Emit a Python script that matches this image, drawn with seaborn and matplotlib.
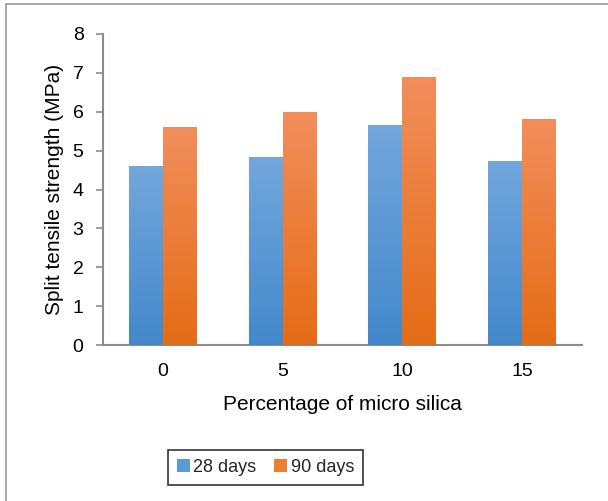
import numpy as np
import pandas as pd
import matplotlib
matplotlib.use("Agg")
import matplotlib.pyplot as plt
import seaborn as sns
from matplotlib.patches import Patch
from matplotlib.colors import LinearSegmentedColormap
from matplotlib.lines import Line2D
import matplotlib.patheffects as pe

# ── Data ──────────────────────────────────────────────────────────────────────
silica_pct = ["0", "5", "10", "15"]
days_28 = [4.60, 4.83, 5.66, 4.73]
days_90 = [5.60, 5.99, 6.89, 5.81]
series_names = ["28 days", "90 days"]

df = pd.DataFrame({
    "pct": silica_pct * 2,
    "strength": days_28 + days_90,
    "age": [series_names[0]] * 4 + [series_names[1]] * 4,
})

# gradient colours (top -> bottom)
grad = {
    "28 days": ("#73a7dd", "#4388cb"),
    "90 days": ("#f28e5c", "#e56c16"),
}
mid = {"28 days": "#5b9bd5", "90 days": "#ed7d31"}

sns.set_theme(style="white")
plt.rcParams["font.family"] = ["Liberation Sans", "DejaVu Sans"]

fig = plt.figure(figsize=(6.08, 5.01), dpi=100)
ax = fig.add_axes([103 / 608, 1 - 345 / 501, (582 - 103) / 608, (345 - 34) / 501])

sns.barplot(data=df, x="pct", y="strength", hue="age", order=silica_pct,
            hue_order=series_names, palette=mid, width=0.567, gap=0,
            legend=False, ax=ax, saturation=1, linewidth=0)

# ── Gradient fill on each bar ─────────────────────────────────────────────────
ax.set_ylim(0, 8)
ax.set_xlim(-0.5, 3.5)
grad_img = np.linspace(0, 1, 256).reshape(-1, 1)
patches = list(ax.patches)
for i, p in enumerate(patches):
    name = series_names[i // len(silica_pct)]
    top, bot = grad[name]
    cmap = LinearSegmentedColormap.from_list(name, [top, bot])
    x0, y0 = p.get_x(), p.get_y()
    w, h = p.get_width(), p.get_height()
    p.set_path_effects([pe.SimplePatchShadow(offset=(0, 0), shadow_rgbFace="#9a9a9a",
                                             alpha=0.35), pe.Normal()])
    im = ax.imshow(grad_img, cmap=cmap, aspect="auto",
                   extent=(x0, x0 + w, y0, y0 + h), zorder=3)
    im.set_clip_path(p)
ax.set_xlim(-0.5, 3.5)
ax.set_ylim(0, 8)

# ── Axes styling ──────────────────────────────────────────────────────────────
for s in ["top", "right"]:
    ax.spines[s].set_visible(False)
for s in ["left", "bottom"]:
    ax.spines[s].set_color("#8c8c8c")
    ax.spines[s].set_linewidth(1.5)
ax.set_yticks(range(0, 9))
ax.tick_params(axis="y", which="both", left=True, length=5, width=1.2,
               color="#8c8c8c", labelsize=14, pad=9, labelcolor="black")
ax.tick_params(axis="x", bottom=False, labelsize=14, pad=7, labelcolor="black")
ax.set_xlabel("Percentage of micro silica", fontsize=15, labelpad=11, color="black")
ax.set_ylabel("Split tensile strength (MPa)", fontsize=15, labelpad=6, color="black")

# ── Legend ────────────────────────────────────────────────────────────────────
handles = [Patch(facecolor=mid[n], edgecolor="none", label=n) for n in series_names]
leg = fig.legend(handles=handles, loc="center", bbox_to_anchor=(265.5 / 608, 1 - 467.5 / 501),
                 ncol=2, frameon=True, fancybox=False, fontsize=13,
                 handlelength=0.7, handleheight=0.7, handletextpad=0.2,
                 columnspacing=1.0, borderpad=0.5)
leg.get_frame().set_edgecolor("black")
leg.get_frame().set_linewidth(1.2)

# ── Outer border (left and top only, rest is cropped) ─────────────────────────
fig.add_artist(Line2D([6 / 608, 6 / 608], [0, 1 - 4 / 501], transform=fig.transFigure,
                      color="#999999", linewidth=1.2))
fig.add_artist(Line2D([6 / 608, 1], [1 - 4 / 501, 1 - 4 / 501], transform=fig.transFigure,
                      color="#999999", linewidth=1.2))

fig.savefig("out.png", dpi=100)
